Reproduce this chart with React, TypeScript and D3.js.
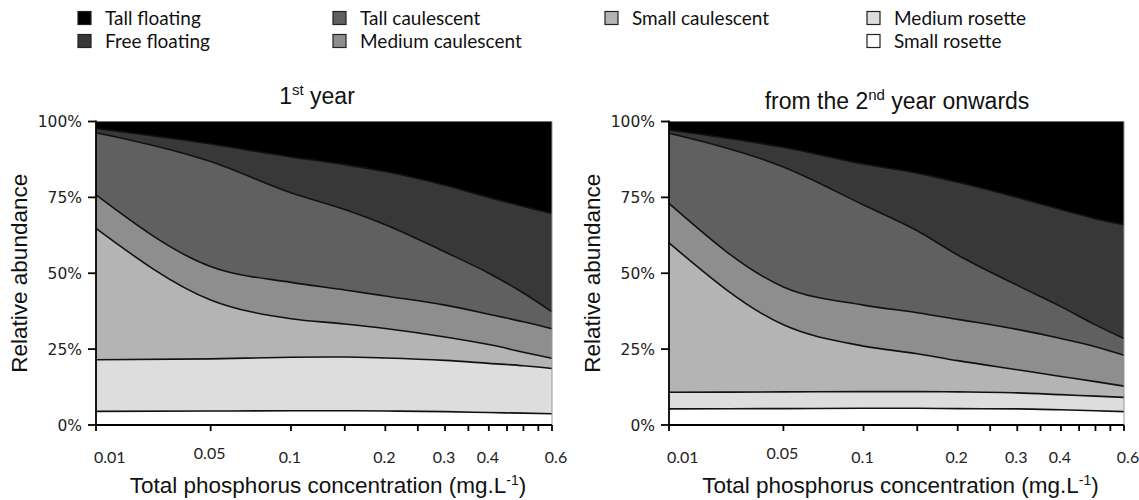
import React from "react";
import * as d3 from "d3";

// total phosphorus (mg/L) where the model curves were read
const phosphorus = [0.01, 0.05, 0.1, 0.15, 0.2, 0.3, 0.4, 0.5, 0.6];

// 1st year, % of each life form (bottom to top of the stack)
const y1SmallRosette = [4.5, 4.6, 4.7, 4.7, 4.6, 4.4, 4.1, 3.9, 3.7];
const y1MediumRosette = [17.0, 17.2, 17.6, 17.7, 17.5, 16.9, 16.2, 15.6, 14.9];
const y1SmallCaulescent = [43.3, 19.4, 12.7, 10.9, 9.7, 7.7, 6.2, 4.5, 3.4];
const y1MediumCaulescent = [11.0, 11.0, 12.0, 11.2, 10.7, 10.5, 10.0, 10.0, 9.7];
const y1TallCaulescent = [20.5, 34.6, 29.5, 26.5, 23.5, 17.5, 13.5, 9.5, 5.6];
const y1FreeFloating = [1.4, 5.8, 11.8, 14.8, 17.5, 22.0, 25.0, 28.5, 32.4];
const y1TallFloating = [2.3, 7.4, 11.7, 14.2, 16.5, 21.0, 25.0, 28.0, 30.3];

// from the 2nd year onwards
const y2SmallRosette = [5.3, 5.4, 5.5, 5.5, 5.4, 5.3, 5.0, 4.7, 4.4];
const y2MediumRosette = [5.5, 5.5, 5.5, 5.5, 5.5, 5.3, 5.0, 4.8, 4.7];
const y2SmallCaulescent = [49.2, 22.1, 15.0, 12.5, 10.3, 7.6, 6.0, 4.8, 3.7];
const y2MediumCaulescent = [13.0, 12.5, 13.5, 13.5, 13.6, 13.3, 12.5, 11.5, 10.2];
const y2TallCaulescent = [23.1, 39.5, 33.0, 27.0, 21.2, 14.5, 10.5, 7.2, 5.5];
const y2FreeFloating = [1.1, 6.5, 13.5, 19.0, 24.0, 29.0, 32.0, 35.0, 37.5];
const y2TallFloating = [2.8, 8.5, 14.0, 17.0, 20.0, 25.0, 29.0, 32.0, 34.0];

const seriesNames = [
  "Small rosette",
  "Medium rosette",
  "Small caulescent",
  "Medium caulescent",
  "Tall caulescent",
  "Free floating",
  "Tall floating",
];
const fills = ["#ffffff", "#dddddd", "#b4b4b4", "#8e8e8e", "#606060", "#383838", "#000000"];

const xTickValues = [0.01, 0.05, 0.1, 0.15, 0.2, 0.25, 0.3, 0.35, 0.4, 0.45, 0.5, 0.55, 0.6];
const xTickLabels = [0.01, 0.05, 0.1, 0.2, 0.3, 0.4, 0.6];
const yTickValues = [0, 25, 50, 75, 100];

// legend: [series index, column, row]
const legendItems = [
  [6, 0, 0],
  [5, 0, 1],
  [4, 1, 0],
  [3, 1, 1],
  [2, 2, 0],
  [1, 3, 0],
  [0, 3, 1],
];
const legendCols = [78, 333, 605, 867];
const legendRows = [18, 41];

const yTop = 121.5;
const yBottom = 425;

type PanelProps = {
  series: number[][];
  x0: number;
  x1: number;
  title: React.ReactNode;
  titleY: number;
  titleX: number;
};

const Panel = ({ series, x0, x1, title, titleY, titleX }: PanelProps) => {
  const x = d3.scaleSymlog().constant(0.03).domain([0.01, 0.6]).range([x0, x1]);
  const y = d3.scaleLinear().domain([0, 100]).range([yBottom, yTop]);

  const rows = phosphorus.map((p, i) => {
    const row: any = { p };
    seriesNames.forEach((k, j) => (row[k] = series[j][i]));
    return row;
  });
  const stacked = d3.stack<any>().keys(seriesNames)(rows);

  const area = d3
    .area<any>()
    .x((d) => x(d.data.p))
    .y0((d) => y(d[0]))
    .y1((d) => y(d[1]))
    .curve(d3.curveMonotoneX);
  const line = d3
    .line<any>()
    .x((d) => x(d.data.p))
    .y((d) => y(d[1]))
    .curve(d3.curveMonotoneX);

  const midX = (x0 + x1) / 2;

  return (
    <g>
      {stacked.map((layer, i) => (
        <path key={"a" + i} d={area(layer) || ""} fill={fills[i]} />
      ))}
      {stacked.slice(0, -1).map((layer, i) => (
        <path key={"l" + i} d={line(layer) || ""} fill="none" stroke="#111" strokeWidth={1.6} />
      ))}
      <line x1={x1} x2={x1} y1={yTop} y2={yBottom} stroke="#999" strokeWidth={1} />
      <line x1={x0} x2={x1} y1={yTop} y2={yTop} stroke="#777" strokeWidth={1} />

      {/* y axis */}
      <line x1={x0} x2={x0} y1={yTop - 1} y2={yBottom} stroke="#000" strokeWidth={1.8} />
      {yTickValues.map((v) => (
        <g key={"y" + v}>
          <line x1={x0 - 8} x2={x0} y1={y(v)} y2={y(v)} stroke="#000" strokeWidth={1.8} />
          <text
            x={x0 - 14}
            y={y(v)}
            dy="0.36em"
            textAnchor="end"
            fontFamily="DejaVu Sans"
            fontSize={15.5}
            fill="#222"
          >
            {v + "%"}
          </text>
        </g>
      ))}

      {/* x axis */}
      <line x1={x0} x2={x1} y1={yBottom} y2={yBottom} stroke="#000" strokeWidth={1.8} />
      {xTickValues.map((v) => (
        <line key={"xt" + v} x1={x(v)} x2={x(v)} y1={yBottom} y2={yBottom + 6} stroke="#000" strokeWidth={1.8} />
      ))}
      {xTickLabels.map((v, i) => (
        <text
          key={"xl" + v}
          x={i === 0 ? x0 - 2 : v === 0.6 ? x(v) + 4 : x(v) - 1}
          y={v === 0.05 ? 459 : 463}
          textAnchor={i === 0 ? "start" : "middle"}
          fontFamily="Lato"
          fontSize={16}
          fill="#222"
        >
          {String(v)}
        </text>
      ))}

      <text x={titleX} y={titleY} textAnchor="middle" fontFamily="Liberation Sans" fontSize={23} fill="#111">
        {title}
      </text>

      <text
        transform={`translate(${x0 - 69},${(yTop + yBottom) / 2}) rotate(-90)`}
        textAnchor="middle"
        fontFamily="Liberation Sans"
        fontSize={22.5}
        fill="#111"
      >
        Relative abundance
      </text>

      <text x={midX + 4} y={493} textAnchor="middle" fontFamily="Liberation Sans" fontSize={22.5} fill="#111">
        Total phosphorus concentration (mg.L
        <tspan dy={-8} fontSize={14}>
          -1
        </tspan>
        <tspan dy={8}>)</tspan>
      </text>
    </g>
  );
};

const App = () => {
  const first = [
    y1SmallRosette,
    y1MediumRosette,
    y1SmallCaulescent,
    y1MediumCaulescent,
    y1TallCaulescent,
    y1FreeFloating,
    y1TallFloating,
  ];
  const onwards = [
    y2SmallRosette,
    y2MediumRosette,
    y2SmallCaulescent,
    y2MediumCaulescent,
    y2TallCaulescent,
    y2FreeFloating,
    y2TallFloating,
  ];

  return (
    <svg width={1139} height={500} style={{ position: "absolute", left: 0, top: 0, background: "#fff" }}>
      {legendItems.map(([s, c, r]) => (
        <g key={"lg" + s}>
          <rect
            x={legendCols[c]}
            y={legendRows[r] - 6.5}
            width={13}
            height={13}
            fill={fills[s]}
            stroke="#222"
            strokeWidth={1.2}
          />
          <text x={legendCols[c] + 27} y={legendRows[r]} dy="0.35em" fontFamily="Lato" fontSize={19} fill="#111">
            {seriesNames[s]}
          </text>
        </g>
      ))}

      <Panel
        series={first}
        x0={96}
        x1={552}
        titleX={317}
        titleY={104}
        title={
          <>
            1
            <tspan dy={-9} fontSize={15}>
              st
            </tspan>
            <tspan dy={9}> year</tspan>
          </>
        }
      />
      <Panel
        series={onwards}
        x0={669}
        x1={1124}
        titleX={897}
        titleY={109}
        title={
          <>
            from the 2
            <tspan dy={-9} fontSize={15}>
              nd
            </tspan>
            <tspan dy={9}> year onwards</tspan>
          </>
        }
      />
    </svg>
  );
};

export default App;
